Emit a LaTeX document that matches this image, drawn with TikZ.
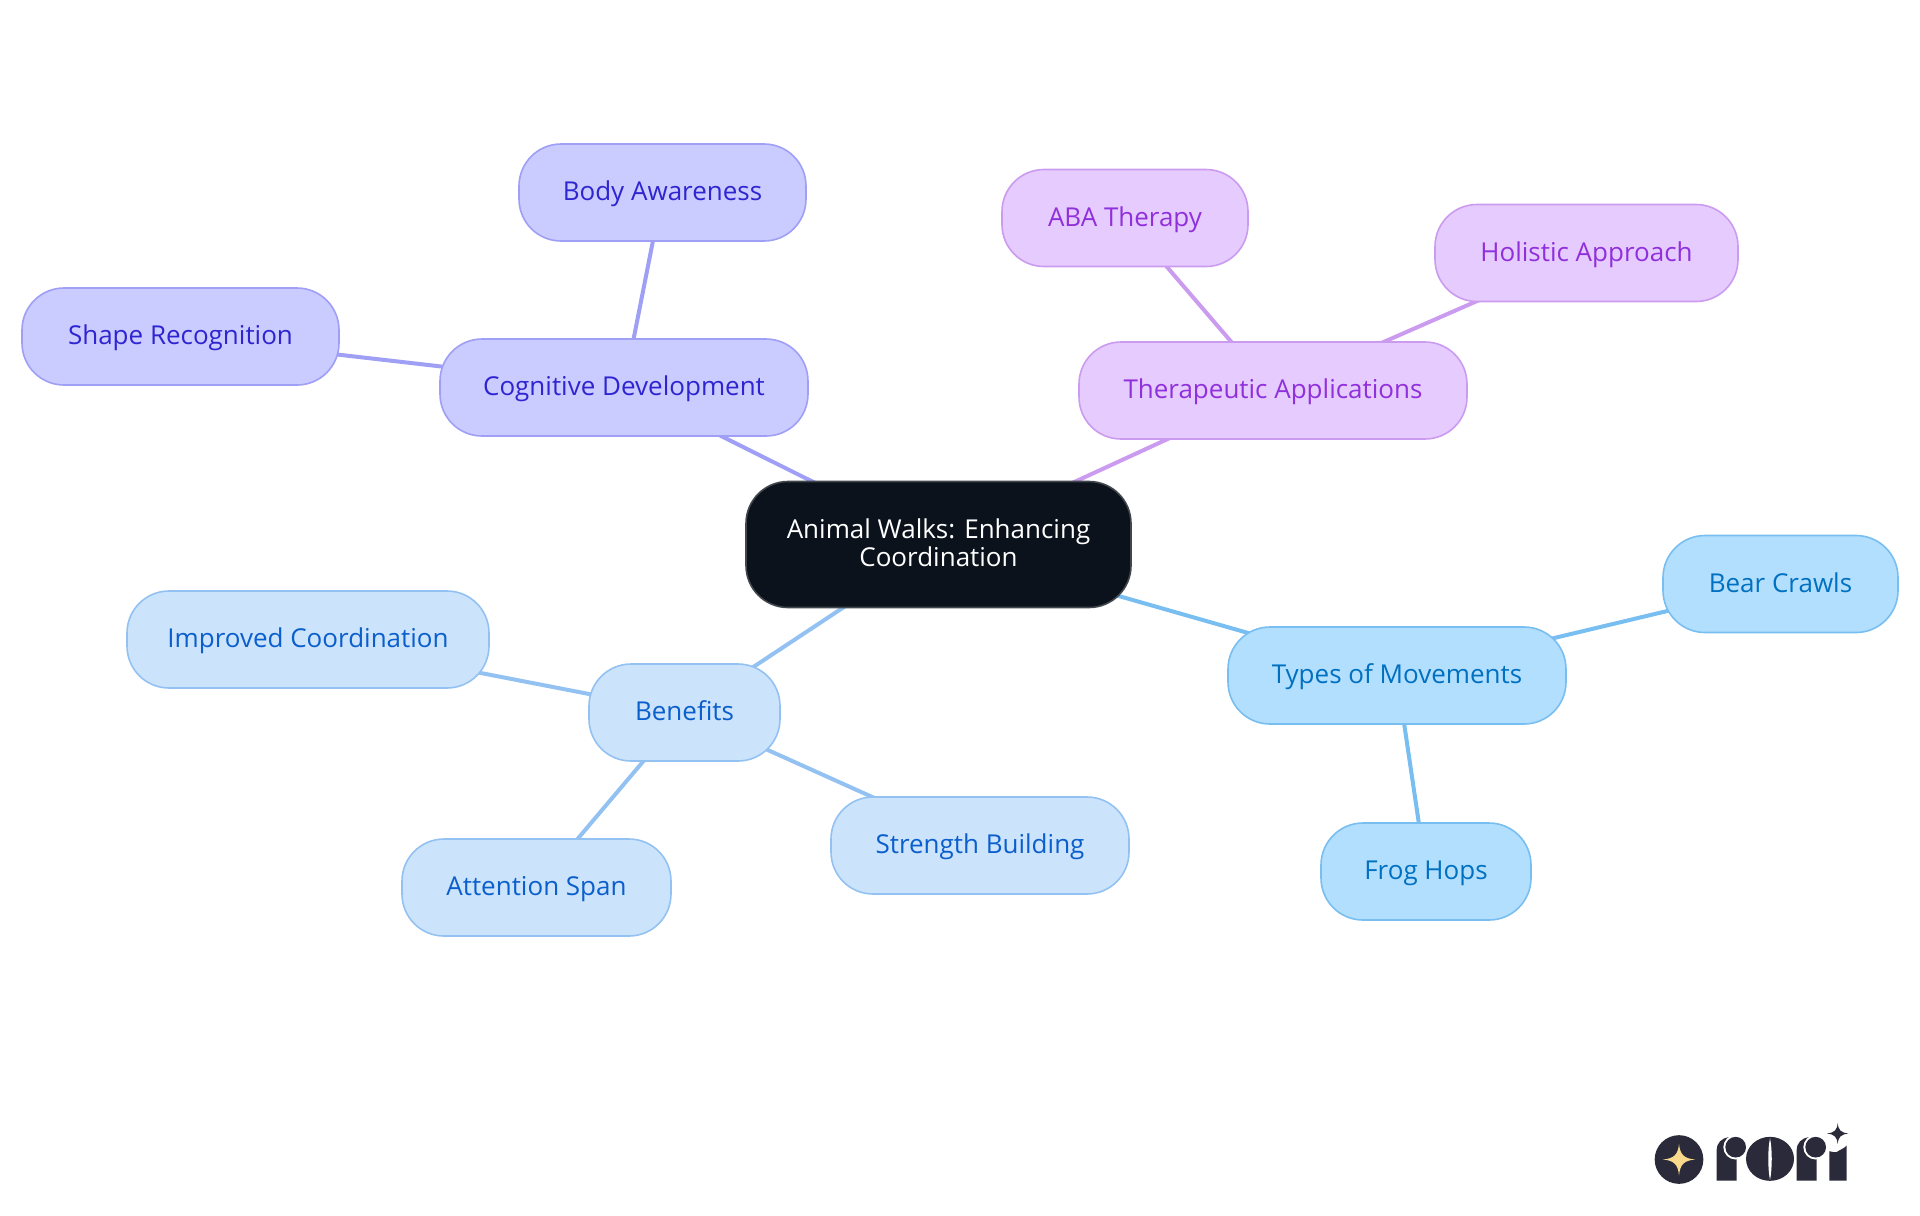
\documentclass[tikz,border=0pt]{standalone}
\usepackage{fontspec}
\setmainfont{Open Sans}
\usetikzlibrary{backgrounds}
\definecolor{rootfill}{HTML}{0B121B}\definecolor{rootline}{HTML}{42474D}
\definecolor{tfill}{HTML}{B3DFFF}\definecolor{tline}{HTML}{78BEF0}\definecolor{ttext}{HTML}{0070C0}
\definecolor{bfill}{HTML}{CCE3FC}\definecolor{bline}{HTML}{93C2F2}\definecolor{btext}{HTML}{0B5FCC}
\definecolor{cfill}{HTML}{CACBFF}\definecolor{cline}{HTML}{9F9FF5}\definecolor{ctext}{HTML}{2F25D0}
\definecolor{afill}{HTML}{E6CBFF}\definecolor{aline}{HTML}{CB9BF0}\definecolor{atext}{HTML}{9030DB}
\definecolor{logodark}{HTML}{2A2A3A}\definecolor{logostar}{HTML}{F9D98B}
\tikzset{
 mind/.style={draw,rounded corners=42*0.75pt,line width=1.2pt,inner sep=0pt,align=center,
   font=\fontsize{19.5}{21}\selectfont},
 one/.style={text height=16pt,text depth=3.5pt},
 rootnode/.style={mind,fill=rootfill,draw=rootline,text=white,text depth=3pt},
 tnode/.style={mind,one,fill=tfill,draw=tline,text=ttext},
 bnode/.style={mind,one,fill=bfill,draw=bline,text=btext},
 cnode/.style={mind,one,fill=cfill,draw=cline,text=ctext},
 anode/.style={mind,one,fill=afill,draw=aline,text=atext},
 link/.style={line width=3pt},
 box/.style n args={2}{minimum width=#1*0.75pt,minimum height=#2*0.75pt},
}
\begin{document}
\begin{tikzpicture}[x=0.75pt,y=-0.75pt]
\useasboundingbox (0,0) rectangle (1920,1215);
\node[rootnode,box={385}{126}] (root) at (938.5,544.5) {Animal Walks: Enhancing\\Coordination};
\node[tnode,box={338}{97}] (types) at (1397,675.5) {Types of Movements};
\node[tnode,box={235}{97}] (bear) at (1780.5,584) {Bear Crawls};
\node[tnode,box={210}{97}] (frog) at (1426,871.5) {Frog Hops};
\node[anode,box={388}{97}] (ther) at (1273,390.5) {Therapeutic Applications};
\node[anode,box={246}{97}] (aba) at (1125,218) {ABA Therapy};
\node[anode,box={303}{97}] (hol) at (1586.5,253) {Holistic Approach};
\node[cnode,box={368}{97}] (cog) at (624,387.5) {Cognitive Development};
\node[cnode,box={287}{97}] (body) at (662.5,192.5) {Body Awareness};
\node[cnode,box={317}{97}] (shape) at (180.5,336.5) {Shape Recognition};
\node[bnode,box={191}{97}] (ben) at (684.5,712.5) {Benefits};
\node[bnode,box={362}{97}] (imp) at (308,639.5) {Improved Coordination};
\node[bnode,box={269}{97}] (att) at (536.5,887.5) {Attention Span};
\node[bnode,box={298}{97}] (str) at (980,845.5) {Strength Building};
\begin{scope}[on background layer]
\draw[link,tline] (root.center)--(types.center);
\draw[link,tline] (types.center)--(bear.center);
\draw[link,tline] (types.center)--(frog.center);
\draw[link,aline] (root.center)--(ther.center);
\draw[link,aline] (ther.center)--(aba.center);
\draw[link,aline] (ther.center)--(hol.center);
\draw[link,cline] (root.center)--(cog.center);
\draw[link,cline] (cog.center)--(body.center);
\draw[link,cline] (cog.center)--(shape.center);
\draw[link,bline] (root.center)--(ben.center);
\draw[link,bline] (ben.center)--(imp.center);
\draw[link,bline] (ben.center)--(att.center);
\draw[link,bline] (ben.center)--(str.center);
\end{scope}
% logo
\begin{scope}[shift={(1620,1099.5)},x=0.25pt,y=-0.25pt]
\fill[logodark] (177,180) circle[radius=73*0.25pt];
\fill[logostar] (177,133) .. controls (180,165) and (192,177) .. (225,180) .. controls (192,183) and (180,195) .. (177,228) .. controls (174,195) and (162,183) .. (129,180) .. controls (162,177) and (174,165) .. (177,133) -- cycle;
\foreach \dx in {0,240}{
\fill[logodark,shift={(\dx,0)}] (290,243)--(290,152) .. controls (290,130) and (305,115) .. (328,113) -- (350,178) -- (350,243) -- cycle;
\fill[white,shift={(\dx,0)}] (347,143) circle[radius=37*0.25pt];
\fill[logodark,shift={(\dx,0)}] (347,143) circle[radius=31*0.25pt];
}
\fill[logodark] (450,178) ellipse[x radius=72*0.25pt,y radius=66*0.25pt];
\fill[white] (450,116) .. controls (443,150) and (443,205) .. (450,242) .. controls (457,205) and (457,150) .. (450,116) -- cycle;
\fill[logodark] (628,243)--(628,155) .. controls (640,158) and (650,160) .. (654,155) .. controls (662,150) and (675,145) .. (680,138) -- (680,243) -- cycle;
\fill[logodark] (653,70) .. controls (655,92) and (662,99) .. (685,102) .. controls (662,105) and (655,112) .. (653,134) .. controls (651,112) and (644,105) .. (621,102) .. controls (644,99) and (651,92) .. (653,70) -- cycle;
\end{scope}
\end{tikzpicture}
\end{document}
